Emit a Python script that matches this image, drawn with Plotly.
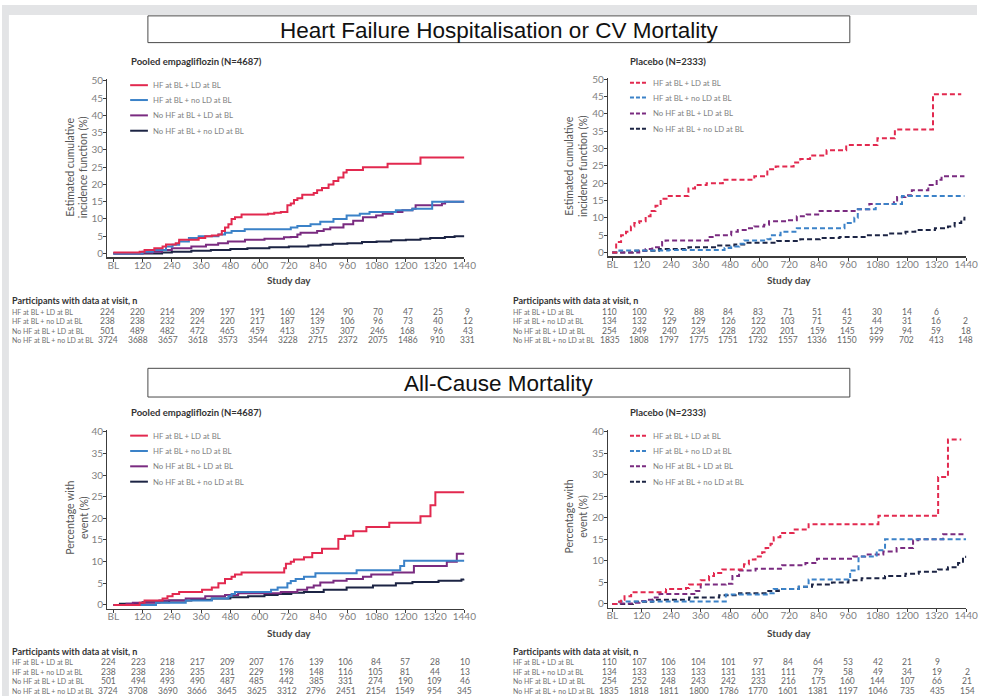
import plotly.graph_objects as go

W, H = 989, 698

# ---------------- DATA ----------------
series_names = ["HF at BL + LD at BL", "HF at BL + no LD at BL",
                "No HF at BL + LD at BL", "No HF at BL + no LD at BL"]
series_colors = ["#e2294f", "#3b82c8", "#7a2b80", "#1c2444"]
tick_days = [0, 120, 240, 360, 480, 600, 720, 840, 960, 1080, 1200, 1320, 1440]
tick_text = ["BL", "120", "240", "360", "480", "600", "720", "840", "960", "1080", "1200", "1320", "1440"]

# Heart failure hospitalisation or CV mortality - pooled empagliflozin
hf_empa_red_x = [0, 108, 128, 168, 202, 216, 256, 270, 350, 377, 404, 431, 445, 458, 472, 485, 499, 526, 634, 660, 687, 714, 728, 741, 755, 775, 822, 836, 856, 883, 903, 923, 944, 957, 1024, 1125, 1260, 1440]
hf_empa_red_y = [0.3, 0.5, 1.0, 1.5, 2.0, 2.6, 3.0, 4.0, 4.5, 5.0, 5.2, 5.5, 6.5, 7.5, 8.5, 10.0, 10.5, 11.3, 11.5, 11.8, 12.0, 14.0, 14.5, 15.5, 16.0, 17.0, 17.5, 18.3, 19.0, 20.0, 21.0, 22.0, 23.5, 24.2, 25.0, 26.0, 27.8, 27.8]
hf_empa_blue_x = [0, 120, 162, 216, 243, 270, 310, 350, 431, 458, 485, 539, 728, 755, 809, 849, 903, 957, 1011, 1051, 1159, 1227, 1308, 1440]
hf_empa_blue_y = [0, 0.5, 1.0, 2.0, 2.5, 3.5, 4.5, 5.0, 5.5, 6.0, 6.5, 7.0, 7.5, 8.0, 8.5, 9.2, 10.0, 11.0, 11.5, 12.0, 12.5, 13.0, 15.0, 15.0]
hf_empa_purple_x = [0, 120, 160, 200, 240, 320, 380, 430, 470, 540, 620, 700, 728, 755, 768, 836, 863, 890, 944, 984, 1024, 1078, 1105, 1146, 1186, 1227, 1240, 1348, 1361, 1440]
hf_empa_purple_y = [0, 0.2, 0.5, 1.0, 1.5, 2.0, 2.5, 3.0, 3.5, 4.0, 4.3, 4.7, 4.8, 5.5, 6.0, 6.5, 7.0, 7.5, 8.5, 9.5, 10.5, 11.0, 11.5, 12.0, 12.5, 13.0, 14.0, 14.5, 15.0, 15.0]
hf_empa_navy_x = [0, 200, 240, 320, 400, 480, 550, 640, 720, 800, 850, 900, 960, 1020, 1080, 1140, 1200, 1260, 1300, 1360, 1400, 1440]
hf_empa_navy_y = [0, 0.3, 0.5, 0.8, 1.0, 1.3, 1.5, 1.8, 2.0, 2.3, 2.5, 2.8, 3.0, 3.3, 3.5, 3.8, 4.0, 4.3, 4.5, 4.8, 5.0, 5.0]

# Heart failure hospitalisation or CV mortality - placebo
hf_pbo_red_x = [0, 16, 36, 56, 76, 90, 110, 136, 156, 176, 197, 230, 310, 337, 384, 450, 578, 631, 665, 738, 765, 805, 872, 952, 1079, 1150, 1305, 1420]
hf_pbo_red_y = [0, 3, 5, 6, 7.5, 8.5, 9, 10.5, 12, 13.5, 15.5, 16.3, 18.5, 19.5, 20, 21, 22, 24, 24.8, 26, 27, 28, 29.5, 31, 33, 35.5, 45.7, 45.7]
hf_pbo_blue_x = [0, 29, 230, 457, 484, 517, 537, 631, 644, 685, 751, 945, 985, 999, 1072, 1179, 1433]
hf_pbo_blue_y = [0, 0.6, 0.7, 1.3, 1.7, 2.5, 3.5, 3.8, 5.0, 6.0, 7.0, 8.5, 10.0, 12.5, 14.0, 16.3, 16.3]
hf_pbo_purple_x = [0, 110, 136, 163, 190, 203, 217, 390, 417, 484, 511, 551, 578, 618, 638, 711, 751, 791, 838, 992, 1046, 1146, 1159, 1193, 1219, 1286, 1320, 1340, 1433]
hf_pbo_purple_y = [0, 0.5, 1.0, 1.5, 2.0, 3.0, 3.5, 4.5, 5.0, 6.0, 6.5, 7.0, 7.5, 8.0, 9.0, 9.3, 10.5, 11.0, 12.0, 12.5, 14.0, 15.0, 16.0, 16.5, 18.0, 19.5, 21.0, 22.0, 22.0]
hf_pbo_navy_x = [0, 84, 190, 310, 431, 497, 537, 671, 765, 845, 925, 1032, 1126, 1193, 1233, 1313, 1366, 1393, 1420, 1433]
hf_pbo_navy_y = [0, 0.5, 1.0, 1.5, 2.0, 2.3, 2.8, 3.3, 3.8, 4.2, 4.5, 5.0, 5.5, 6.0, 6.5, 7.0, 7.5, 8.5, 9.5, 10.3]

# All-cause mortality - pooled empagliflozin
acm_empa_red_x = [0, 108, 128, 202, 222, 243, 270, 364, 404, 431, 458, 485, 499, 526, 687, 701, 708, 728, 741, 782, 816, 856, 923, 950, 984, 1038, 1132, 1260, 1301, 1321, 1440]
acm_empa_red_y = [0, 0.5, 1.0, 1.5, 2.0, 2.5, 3.0, 3.5, 4.0, 5.0, 6.0, 6.5, 7.0, 7.5, 7.5, 8.5, 9.5, 10.0, 10.5, 11.0, 12.0, 13.0, 15.2, 16.0, 17.0, 18.0, 19.0, 20.5, 23.0, 26.0, 26.0]
acm_empa_blue_x = [0, 175, 297, 404, 472, 485, 499, 647, 674, 714, 728, 748, 782, 829, 998, 1177, 1193, 1440]
acm_empa_blue_y = [0, 0.5, 1.0, 1.5, 2.0, 2.5, 3.0, 3.5, 4.0, 5.0, 5.5, 6.0, 6.5, 7.3, 8.0, 9.0, 10.2, 10.2]
acm_empa_purple_x = [0, 54, 80, 189, 297, 377, 458, 512, 687, 755, 795, 822, 849, 903, 957, 1024, 1058, 1146, 1233, 1368, 1409, 1440]
acm_empa_purple_y = [0, 0.3, 0.5, 1.0, 1.5, 2.0, 2.3, 2.7, 3.0, 3.5, 4.0, 4.5, 5.2, 5.6, 6.0, 6.5, 7.0, 7.5, 9.0, 10.0, 11.8, 11.8]
acm_empa_navy_x = [0, 27, 120, 229, 320, 404, 480, 553, 620, 674, 730, 782, 863, 957, 1065, 1159, 1227, 1334, 1428, 1440]
acm_empa_navy_y = [0, 0.3, 0.6, 1.0, 1.2, 1.5, 1.8, 2.0, 2.3, 2.5, 2.8, 3.0, 3.5, 4.0, 4.5, 5.0, 5.3, 5.6, 5.9, 6.0]

# All-cause mortality - placebo
acm_pbo_red_x = [0, 16, 36, 50, 77, 219, 300, 313, 360, 394, 414, 448, 536, 556, 583, 610, 624, 644, 657, 684, 738, 799, 1083, 1326, 1366, 1420]
acm_pbo_red_y = [0, 0.5, 1.0, 1.8, 2.7, 3.5, 3.7, 4.5, 5.5, 6.5, 7.2, 8.0, 9.2, 10.3, 11.0, 12.0, 13.0, 14.0, 15.5, 16.5, 17.3, 18.5, 20.5, 29.5, 38.2, 38.2]
acm_pbo_blue_x = [0, 30, 462, 637, 657, 759, 799, 968, 1002, 1076, 1110, 1440]
acm_pbo_blue_y = [0, 0.6, 2.2, 2.5, 3.5, 4.0, 5.7, 7.8, 11.0, 12.5, 15.0, 15.0]
acm_pbo_purple_x = [0, 30, 84, 111, 138, 165, 192, 340, 360, 462, 489, 516, 583, 691, 786, 833, 981, 1029, 1103, 1157, 1224, 1245, 1346, 1440]
acm_pbo_purple_y = [0, 0.1, 0.3, 0.7, 1.0, 1.5, 2.3, 3.0, 4.5, 4.7, 6.5, 7.8, 8.2, 9.0, 9.5, 10.5, 11.0, 11.5, 12.2, 13.0, 14.8, 15.0, 16.2, 16.2]
acm_pbo_navy_x = [0, 84, 165, 313, 435, 516, 624, 678, 759, 813, 894, 961, 1015, 1110, 1193, 1247, 1326, 1366, 1407, 1427, 1440]
acm_pbo_navy_y = [0, 0.5, 1.0, 1.5, 2.0, 2.5, 3.0, 3.5, 4.0, 4.5, 5.0, 5.5, 6.0, 6.5, 7.0, 7.5, 8.0, 8.5, 9.5, 10.5, 11.2]

# Participants at risk tables
hf_empa_n = [
    ["224", "220", "214", "209", "197", "191", "160", "124", "90", "70", "47", "25", "9"],
    ["238", "238", "232", "224", "220", "217", "187", "139", "106", "96", "73", "40", "12"],
    ["501", "489", "482", "472", "465", "459", "413", "357", "307", "246", "168", "96", "43"],
    ["3724", "3688", "3657", "3618", "3573", "3544", "3228", "2715", "2372", "2075", "1486", "910", "331"],
]
hf_pbo_n = [
    ["110", "100", "92", "88", "84", "83", "71", "51", "41", "30", "14", "6", ""],
    ["134", "132", "129", "129", "126", "122", "103", "71", "52", "44", "31", "16", "2"],
    ["254", "249", "240", "234", "228", "220", "201", "159", "145", "129", "94", "59", "18"],
    ["1835", "1808", "1797", "1775", "1751", "1732", "1557", "1336", "1150", "999", "702", "413", "148"],
]
acm_empa_n = [
    ["224", "223", "218", "217", "209", "207", "176", "139", "106", "84", "57", "28", "10"],
    ["238", "238", "236", "235", "231", "229", "198", "148", "116", "105", "81", "44", "13"],
    ["501", "494", "493", "490", "487", "485", "442", "385", "331", "274", "190", "109", "46"],
    ["3724", "3708", "3690", "3666", "3645", "3625", "3312", "2796", "2451", "2154", "1549", "954", "345"],
]
acm_pbo_n = [
    ["110", "107", "106", "104", "101", "97", "84", "64", "53", "42", "21", "9", ""],
    ["134", "133", "133", "133", "131", "131", "111", "79", "58", "49", "34", "19", "2"],
    ["254", "252", "248", "243", "242", "233", "216", "175", "160", "144", "107", "66", "21"],
    ["1835", "1818", "1811", "1800", "1786", "1770", "1601", "1381", "1197", "1046", "735", "435", "154"],
]

# ---------------- HELPERS ----------------
def px(x):
    return x / W

def py(y):
    return 1 - y / H

FONT = "Lato, 'Open Sans', sans-serif"
GRAY = "#7f7f7f"

fig = go.Figure()
annotations = []
shapes = []

# background strips
shapes.append(dict(type="rect", xref="paper", yref="paper", x0=0, x1=1, y0=py(10), y1=1,
                   fillcolor="#e3e4e6", line=dict(width=0), layer="below"))
shapes.append(dict(type="rect", xref="paper", yref="paper", x0=0, x1=px(7), y0=0, y1=1,
                   fillcolor="#e3e4e6", line=dict(width=0), layer="below"))

panels = [
    dict(idx=1, data=[(hf_empa_red_x, hf_empa_red_y), (hf_empa_blue_x, hf_empa_blue_y),
                      (hf_empa_purple_x, hf_empa_purple_y), (hf_empa_navy_x, hf_empa_navy_y)],
         dash=False, xpx=(107, 469), ypx=(75, 255), xr=[-24, 1440], yr=[-1.15, 50.5], ymax=50),
    dict(idx=2, data=[(hf_pbo_red_x, hf_pbo_red_y), (hf_pbo_blue_x, hf_pbo_blue_y),
                      (hf_pbo_purple_x, hf_pbo_purple_y), (hf_pbo_navy_x, hf_pbo_navy_y)],
         dash=True, xpx=(615, 978), ypx=(74, 254), xr=[-16, 1440], yr=[-1.14, 50.3], ymax=50),
    dict(idx=3, data=[(acm_empa_red_x, acm_empa_red_y), (acm_empa_blue_x, acm_empa_blue_y),
                      (acm_empa_purple_x, acm_empa_purple_y), (acm_empa_navy_x, acm_empa_navy_y)],
         dash=False, xpx=(107, 469), ypx=(429, 610), xr=[-24, 1440], yr=[-0.91, 40.46], ymax=40),
    dict(idx=4, data=[(acm_pbo_red_x, acm_pbo_red_y), (acm_pbo_blue_x, acm_pbo_blue_y),
                      (acm_pbo_purple_x, acm_pbo_purple_y), (acm_pbo_navy_x, acm_pbo_navy_y)],
         dash=True, xpx=(615, 978), ypx=(429, 609), xr=[-16, 1440], yr=[-0.91, 40.46], ymax=40),
]

layout_axes = {}
for p in panels:
    i = p["idx"]
    xa = "x" if i == 1 else f"x{i}"
    ya = "y" if i == 1 else f"y{i}"
    for k in [3, 2, 1, 0]:
        xs, ys = p["data"][k]
        fig.add_trace(go.Scatter(
            x=xs, y=ys, mode="lines", line_shape="hv",
            line=dict(color=series_colors[k], width=2, dash="5px,3px" if p["dash"] else "solid"),
            xaxis=xa, yaxis=ya, showlegend=False, hoverinfo="skip"))
    xname = "xaxis" if i == 1 else f"xaxis{i}"
    yname = "yaxis" if i == 1 else f"yaxis{i}"
    layout_axes[xname] = dict(
        domain=[px(p["xpx"][0]), px(p["xpx"][1])], range=p["xr"], anchor=ya,
        tickvals=tick_days, ticktext=tick_text, showgrid=False, zeroline=False,
        showline=True, linecolor="#3c3c3c", linewidth=1.5, ticks="outside", ticklen=3,
        tickcolor="#3c3c3c", tickfont=dict(family=FONT, size=10, color=GRAY),
        ticklabelstandoff=-5, fixedrange=True)
    layout_axes[yname] = dict(
        domain=[py(p["ypx"][1]), py(p["ypx"][0])], range=p["yr"], anchor=xa,
        tickvals=list(range(0, p["ymax"] + 1, 5)), showgrid=False, zeroline=False,
        showline=True, linecolor="#3c3c3c", linewidth=1.5, ticks="outside", ticklen=3,
        tickcolor="#3c3c3c", tickfont=dict(family=FONT, size=10, color=GRAY),
        ticklabelstandoff=-2, fixedrange=True)

# ---------------- TEXT ----------------
def ann(x, y, text, size, color="#555", bold=False, xanchor="left", angle=0, family=FONT):
    annotations.append(dict(
        x=px(x), y=py(y), xref="paper", yref="paper", text=f"<b>{text}</b>" if bold else text,
        showarrow=False, xanchor=xanchor, yanchor="middle", textangle=angle, borderpad=0,
        font=dict(family=family, size=size, color=color)))

# section title boxes
for (y0, y1, title) in [(11, 38, "Heart Failure Hospitalisation or CV Mortality"),
                        (367, 396, "All-Cause Mortality")]:
    shapes.append(dict(type="rect", xref="paper", yref="paper", x0=px(148), x1=px(860),
                       y0=py(y1), y1=py(y0), line=dict(color="#4a4a4a", width=1), fillcolor="white"))
    ann(504, (y0 + y1) / 2 + 1, title, 22.5, color="#111", xanchor="center",
        family="'Liberation Sans Narrow', 'Liberation Sans', sans-serif")

# panel titles
ann(130, 57, "Pooled empagliflozin (N=4687)", 9.5, color="#333", bold=True)
ann(636, 57, "Placebo (N=2333)", 9.5, color="#333", bold=True)
ann(130, 412, "Pooled empagliflozin (N=4687)", 9.5, color="#333", bold=True)
ann(636, 412, "Placebo (N=2333)", 9.5, color="#333", bold=True)

# y titles
ann(76, 164, "Estimated cumulative<br>incidence function (%)", 10.5, color="#555", xanchor="center", angle=-90)
ann(583, 163, "Estimated cumulative<br>incidence function (%)", 10.5, color="#555", xanchor="center", angle=-90)
ann(76, 518, "Percentage with<br>event (%)", 10.5, color="#555", xanchor="center", angle=-90)
ann(582, 517, "Percentage with<br>event (%)", 10.5, color="#555", xanchor="center", angle=-90)

# x titles
for (x, y) in [(291, 278), (798, 278), (291, 634), (798, 634)]:
    ann(x, y, "Study day", 10, color="#444", bold=True, xanchor="center")

# legends
legend_specs = [
    (130, [81, 96, 111.5, 127], False),
    (637, [78.5, 93.5, 109.5, 125], True),
    (130, [435, 450.5, 466, 481.5], False),
    (637, [435, 450.5, 466, 481.5], True),
]
for (lx, ys, dashed) in legend_specs:
    for k, yy in enumerate(ys):
        shapes.append(dict(type="line", xref="paper", yref="paper", x0=px(lx), x1=px(lx + 18),
                           y0=py(yy), y1=py(yy),
                           line=dict(color=series_colors[k], width=2, dash="4px,2px" if dashed else "solid")))
        ann(lx + 22, yy, series_names[k], 7.8, color=GRAY)

# at-risk tables
table_specs = [
    (hf_empa_n, 9, 107.5, 30.4, 298, [310, 319.5, 329, 338.5]),
    (hf_pbo_n, 517, 616.5, 30.1, 298, [310, 319.5, 329, 338.5]),
    (acm_empa_n, 9, 108, 30.1, 653, [663.5, 673.5, 683, 693]),
    (acm_pbo_n, 517, 616, 30.25, 653, [663.5, 673.5, 683, 693]),
]
for (tab, lx, cx0, step, hy, rows) in table_specs:
    ann(lx, hy, "Participants with data at visit, n", 9, color="#333", bold=True)
    for r, yy in enumerate(rows):
        ann(lx, yy, series_names[r], 7.0, color="#707070")
        for c, val in enumerate(tab[r]):
            if val:
                ann(cx0 + step * c, yy, val, 8.5, color="#666", xanchor="center")

fig.update_layout(
    width=W, height=H, margin=dict(l=0, r=0, t=0, b=0),
    paper_bgcolor="white", plot_bgcolor="rgba(0,0,0,0)",
    showlegend=False, annotations=annotations, shapes=shapes, **layout_axes)

fig.write_html("out.html", config={"displayModeBar": False, "staticPlot": True},
               post_script="document.body.style.margin='0px';document.body.style.overflow='hidden';")
